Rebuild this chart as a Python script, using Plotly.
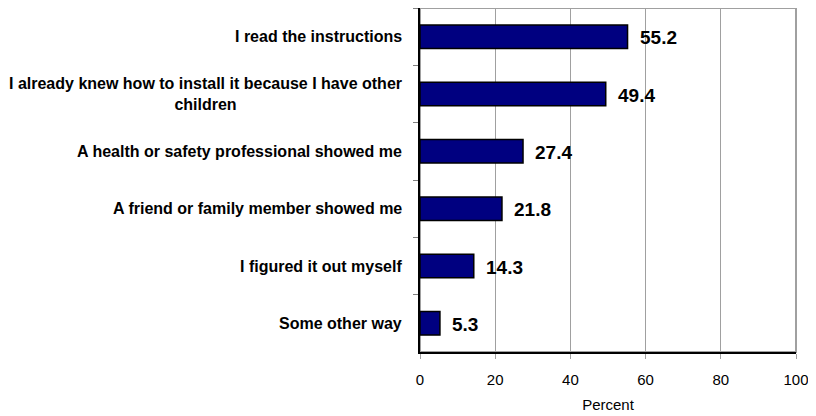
import plotly.graph_objects as go

categories = [
    "I read the instructions",
    "I already knew how to install it because I have other<br>children",
    "A health or safety professional showed me",
    "A friend or family member showed me",
    "I figured it out myself",
    "Some other way",
]
values = [55.2, 49.4, 27.4, 21.8, 14.3, 5.3]
x_ticks = [0, 20, 40, 60, 80, 100]
x_title = "Percent"

FONT = "Liberation Sans, Arial, sans-serif"

fig = go.Figure()
fig.add_trace(go.Bar(
    x=values,
    y=categories,
    orientation="h",
    marker=dict(color="#000080", line=dict(color="#000000", width=1.5)),
    hoverinfo="skip",
))

annotations = []
for c, v in zip(categories, values):
    annotations.append(dict(
        x=v, y=c, xref="x", yref="y", text=f"<b>{v:.1f}</b>", showarrow=False,
        xanchor="left", yanchor="middle", xshift=10, yshift=-1,
        font=dict(family=FONT, size=19, color="#000000"),
    ))
    annotations.append(dict(
        x=0, y=c, xref="paper", yref="y", text=f"<b>{c}</b>", showarrow=False,
        xanchor="right", yanchor="middle", xshift=-16, align="center",
        font=dict(family=FONT, size=16, color="#000000"),
    ))

# page body has an 8px margin, so the figure is sized/offset to compensate
fig.update_layout(
    width=808, height=408,
    margin=dict(l=412, r=20, t=0, b=64),
    paper_bgcolor="white", plot_bgcolor="white",
    showlegend=False,
    bargap=0.59,
    annotations=annotations,
    shapes=[dict(type="rect", xref="paper", yref="paper", x0=0, x1=1, y0=0, y1=1,
                 line=dict(color="#A0A0A0", width=2), layer="below")],
    font=dict(family=FONT, color="#000000"),
)
fig.update_xaxes(
    range=[0, 100], tickvals=x_ticks, ticktext=[str(t) for t in x_ticks],
    showgrid=True, gridcolor="#A0A0A0", gridwidth=1,
    showline=True, linecolor="#000000", linewidth=2,
    ticks="outside", ticklen=5, tickcolor="#A0A0A0",
    tickfont=dict(family=FONT, size=15, color="#000000"),
    ticklabelstandoff=8, ticklabeloverflow="allow",
    title=dict(text=x_title, font=dict(family=FONT, size=15, color="#000000"), standoff=12),
    zeroline=False, fixedrange=True,
)
fig.update_yaxes(
    autorange="reversed", categoryorder="array", categoryarray=categories,
    showticklabels=False, showgrid=False,
    showline=True, linecolor="#000000", linewidth=2,
    ticks="outside", ticklen=5, tickcolor="#808080", tickson="boundaries",
    zeroline=False, fixedrange=True,
)

fig.write_html("out.html")
